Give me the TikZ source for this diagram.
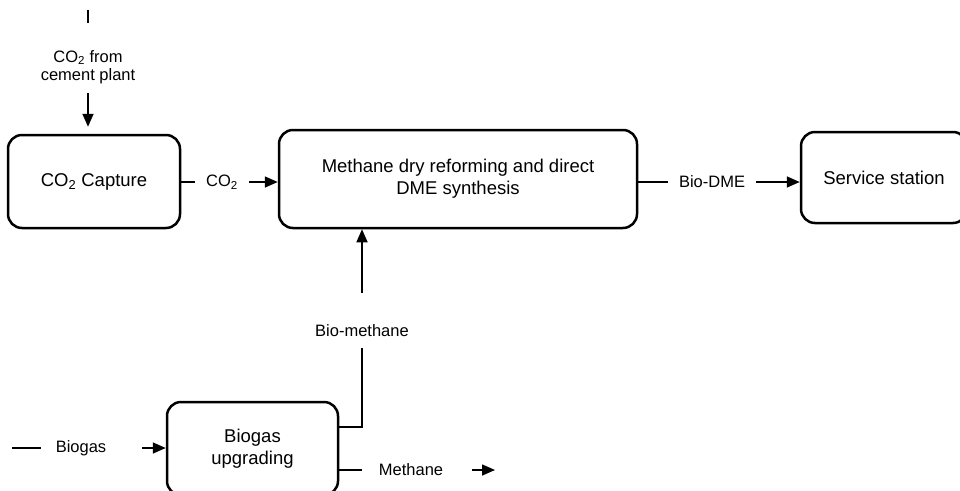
\documentclass[tikz,border=0pt]{standalone}
\usepackage{fontspec}
\setmainfont{Liberation Sans}
\usetikzlibrary{arrows.meta}

\tikzset{
  unit/.style={draw, line width=2.5pt, rounded corners=14pt, align=center,
    font=\fontsize{18.5}{22}\selectfont},
  flow/.style={line width=1.6pt},
  arr/.style={flow, -{Triangle[length=13pt,width=11pt]}},
  lbl/.style={align=center, inner ysep=0pt, font=\fontsize{16.5}{18}\selectfont}
}

\begin{document}
\begin{tikzpicture}[x=1pt,y=-1pt]

\useasboundingbox (0,0) rectangle (960,490);
\clip (0,0) rectangle (960,490);

% Process units
\node[unit, minimum width=172pt, minimum height=93pt] (capture) at (94,181.5) {CO\textsubscript{2} Capture};
\node[unit, minimum width=358pt, minimum height=98pt] (dry) at (458,179) {Methane dry reforming and direct\\DME synthesis};
\node[unit, minimum width=166pt, minimum height=91pt] (service) at (884,177.5) {Service station};
\node[unit, minimum width=171pt, minimum height=93pt] (upgrade) at (252.5,448.5) {Biogas\\upgrading};

% Stream labels
\node[lbl] (lcement) at (88,67) {CO\textsubscript{2} from\\cement plant};
\node[lbl, inner xsep=11pt] (lco2) at (222,182) {CO\textsubscript{2}};
\node[lbl, inner xsep=11pt] (ldme) at (712,182) {Bio-DME};
\node[lbl, inner xsep=15pt] (lbiogas) at (81,448) {Biogas};
\node[lbl, inner xsep=17pt] (lmeth) at (411,470) {Methane};
\node[lbl] (lbm) at (362,331) {Bio-methane};

% Free ends
\coordinate (cptop) at (88,10);
\coordinate (cpbot) at (88,23);
\coordinate (cparr) at (88,93);
\coordinate (bgin) at (12,448);
\coordinate (bgarr) at (142,448);
\coordinate (mtarr) at (472,470);
\coordinate (mtout) at (495,470);
\coordinate (bmbend) at (362,427);
\coordinate (bmtop) at (362,348);
\coordinate (bmarr) at (362,293);

% CO2 from the cement plant
\draw[flow] (cptop) -- (cpbot);
\draw[arr, shorten >=7pt] (cparr) -- (cparr |- capture.north);

% CO2 to the reformer
\draw[flow] (capture.east |- lco2) -- (lco2.west);
\draw[arr] (lco2.east) -- (lco2 -| dry.west);

% Bio-DME to the station
\draw[flow] (dry.east |- ldme) -- (ldme.west);
\draw[arr] (ldme.east) -- (ldme -| service.west);

% Biogas in
\draw[flow] (bgin) -- (lbiogas.west);
\draw[arr] (bgarr) -- (bgarr -| upgrade.west);

% Methane out
\draw[flow] (upgrade.east |- lmeth) -- (lmeth.west);
\draw[arr] (mtarr) -- (mtout);

% Bio-methane up to the reformer
\draw[flow] (upgrade.east |- bmbend) -- (bmbend) -- (bmtop);
\draw[arr] (bmarr) -- (bmarr |- dry.south);

\end{tikzpicture}
\end{document}
